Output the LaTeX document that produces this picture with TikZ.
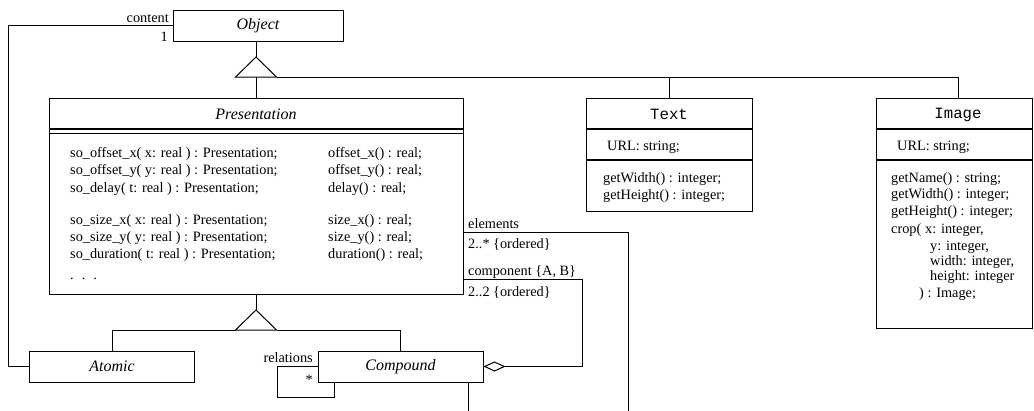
\documentclass[tikz,border=0pt]{standalone}
\usepackage{fontspec}
\setmainfont{Liberation Serif}
\setmonofont{Liberation Mono}
\usetikzlibrary{arrows.meta}
\begin{document}
\begin{tikzpicture}[x=1pt,y=-1pt,
  cls/.style={draw, line width=1pt, inner sep=0pt},
  lbl/.style={inner sep=0pt, font=\fontsize{14.3}{16}\selectfont, anchor=base west},
  lblr/.style={lbl, anchor=base east},
  ttl/.style={inner sep=0pt, font=\fontsize{16}{18}\selectfont\itshape},
  mttl/.style={inner sep=0pt, font=\fontsize{15.7}{18}\selectfont\ttfamily},
  conn/.style={line width=1pt},
  thk/.style={line width=2pt}]
\useasboundingbox (0,0) rectangle (1034,410);

% classes
\node[cls, ttl, minimum width=170pt, minimum height=31pt] (obj) at (258,25.5) {Object};
\node[cls, minimum width=414pt, minimum height=196pt] (pres) at (256,196) {};
\node[ttl] (prest) at (256,114) {Presentation};
\node[cls, minimum width=166pt, minimum height=113pt] (txt) at (669,154.5) {};
\node[mttl] (txtt) at (669,114.5) {Text};
\node[cls, minimum width=156pt, minimum height=230pt] (img) at (954,213) {};
\node[mttl] (imgt) at (958,114.5) {Image};
\node[cls, ttl, minimum width=165pt, minimum height=31pt] (atom) at (112,366.5) {Atomic};
\node[cls, ttl, minimum width=165pt, minimum height=31pt] (comp) at (400.5,366.5) {Compound};

% compartments
\draw[thk] (pres.west |- 0,129) -- (pres.east |- 0,129);
\draw[conn] (pres.west |- 0,133.5) -- (pres.east |- 0,133.5);
\draw[thk] (txt.west |- 0,129) -- (txt.east |- 0,129);
\draw[thk] (txt.west |- 0,160) -- (txt.east |- 0,160);
\draw[thk] (img.west |- 0,129) -- (img.east |- 0,129);
\draw[thk] (img.west |- 0,160) -- (img.east |- 0,160);

% Presentation operations
\node[lbl] (p1) at (70,157) {so\_offset\_x( x: real ) : Presentation;};
\node[lbl] (p2) at (70,174) {so\_offset\_y( y: real ) : Presentation;};
\node[lbl] (p3) at (70,192) {so\_delay( t: real ) : Presentation;};
\node[lbl] (p4) at (70,224) {so\_size\_x( x: real ) : Presentation;};
\node[lbl] (p5) at (70,241) {so\_size\_y( y: real ) : Presentation;};
\node[lbl] (p6) at (70,258) {so\_duration( t: real ) : Presentation;};
\node[lbl] (p7) at (70,279) {.\hspace{8pt}.\hspace{8pt}.};
\node[lbl] (q1) at (328,157) {offset\_x() : real;};
\node[lbl] (q2) at (328,174) {offset\_y() : real;};
\node[lbl] (q3) at (328,192) {delay() : real;};
\node[lbl] (q4) at (328,224) {size\_x() : real;};
\node[lbl] (q5) at (328,241) {size\_y() : real;};
\node[lbl] (q6) at (328,258) {duration() : real;};

% Text members
\node[lbl] (t1) at (607,150) {URL: string;};
\node[lbl] (t2) at (603,182) {getWidth() : integer;};
\node[lbl] (t3) at (603,199) {getHeight() : integer;};

% Image members
\node[lbl] (i1) at (897,150) {URL: string;};
\node[lbl] (i2) at (891,182) {getName() : string;};
\node[lbl] (i3) at (891,198) {getWidth() : integer;};
\node[lbl] (i4) at (891,215) {getHeight() : integer;};
\node[lbl] (i5) at (891,233) {crop(};
\node[lbl] (i6) at (925,233) {x: integer,};
\node[lbl] (i7) at (930,250) {y: integer,};
\node[lbl] (i8) at (930,265) {width: integer,};
\node[lbl] (i9) at (930,280) {height: integer};
\node[lbl] (i10) at (919,297) {) : Image;};

% generalization: Object
\coordinate (g1) at (256,57);
\coordinate (g1b) at (256,77);
\coordinate (imgstem) at (958,98);
\draw[conn] (g1) -- (276.5,77) -- (235.5,77) -- cycle;
\draw[conn] (obj.south -| g1) -- (g1);
\draw[conn] (g1b) -- (pres.north);
\draw[conn] (276.5,77) -- (imgstem |- g1b) -- (imgstem);
\draw[conn] (txt.north |- g1b) -- (txt.north);

% generalization: Presentation
\coordinate (g2) at (256,310);
\coordinate (g2b) at (256,330);
\draw[conn] (g2) -- (276.5,330) -- (235.5,330) -- cycle;
\draw[conn] (pres.south) -- (g2);
\draw[conn] (atom.north) -- (atom.north |- g2b) -- (235.5,330);
\draw[conn] (276.5,330) -- (comp.north |- g2b) -- (comp.north);

% content association
\draw[conn] (obj.west) -| ([xshift=-21pt]atom.west) -- (atom.west);
\node[lblr] (lcontent) at (169,22) {content};
\node[lblr] (lone) at (168,41.5) {1};

% elements association
\coordinate (elrow) at (0,232);
\coordinate (elend) at (628,412);
\draw[conn] (pres.east |- elrow) -| (elend);
\node[lbl] (lel) at (468,228) {elements};
\node[lbl] (lelm) at (468,248) {2..* \{ordered\}};

% component aggregation
\coordinate (comprow) at (0,279);
\coordinate (compx) at (582,0);
\draw[conn, {Diamond[open,length=22pt,width=10pt]}-] (comp.east) -- (comp.east -| compx) |- (pres.east |- comprow);
\node[lbl] (lco) at (468,275) {component \{A, B\}};
\node[lbl] (lcom) at (468,296) {2..2 \{ordered\}};

% relations self association
\draw[conn] (comp.west) -| (277,397) -| ([xshift=-66.5pt]comp.south);
\node[lblr] (lrel) at (313,362) {relations};
\node[lblr] (lstar) at (313,384) {*};

% compound to below
\coordinate (cbend) at (468,412);
\draw[conn] (comp.south -| cbend) -- (cbend);
\end{tikzpicture}
\end{document}
